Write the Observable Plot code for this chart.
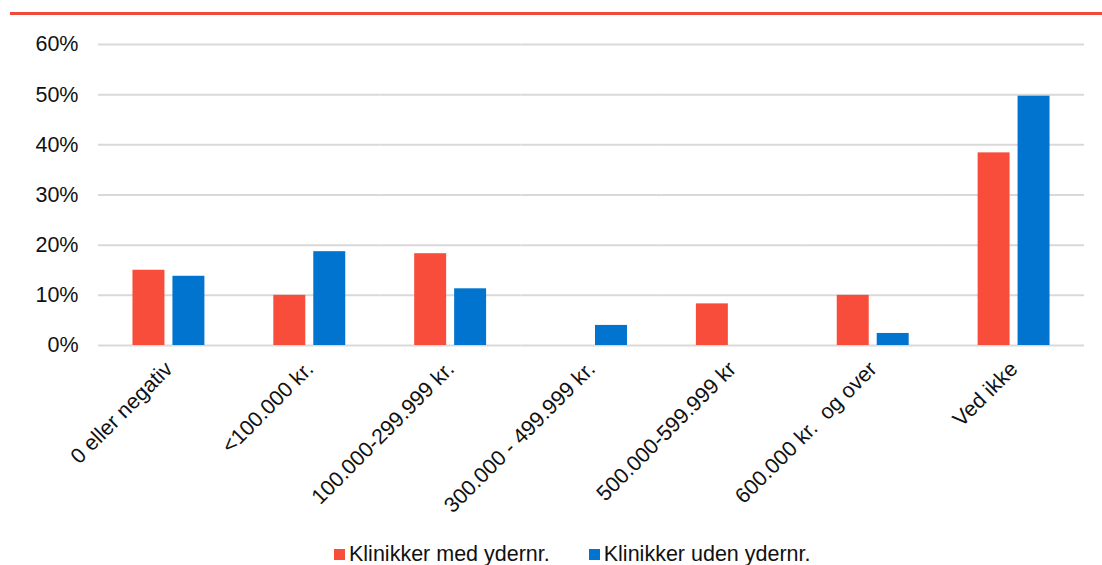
<!DOCTYPE html>
<html>
<head>
<meta charset="utf-8">
<script src="https://cdn.jsdelivr.net/npm/d3@7"></script>
<script src="https://cdn.jsdelivr.net/npm/@observablehq/plot@0.6"></script>
<style>
  html, body { margin: 0; padding: 0; background: #fff; }
  #wrap { position: relative; width: 1102px; height: 565px; overflow: hidden; font-family: "Liberation Sans", Arial, sans-serif; }
  #topline { position: absolute; left: 10px; right: 0; top: 12px; height: 3px; background: #F04A3C; }
  #chart { position: absolute; left: 0; top: 0; }
  #chart svg text { white-space: pre; }
  #legend { position: absolute; left: 334px; top: 542px; display: flex; gap: 39px; font-size: 21.5px; color: #111; line-height: 24px; white-space: nowrap; }
  #legend .item { display: flex; align-items: center; }
  #legend .sw { width: 11px; height: 11px; margin-right: 4px; }
</style>
</head>
<body>
<div id="wrap">
  <div id="topline"></div>
  <div id="chart"></div>
  <div id="legend"></div>
</div>
<script>
const categories = ["0 eller negativ", "<100.000 kr.", "100.000-299.999 kr.", "300.000 - 499.999 kr.", "500.000-599.999 kr", "600.000 kr.  og over", "Ved ikke"];
const seriesNames = ["Klinikker med ydernr.", "Klinikker uden ydernr."];
const medValues = [15.0, 10.0, 18.3, 0, 8.3, 10.0, 38.4];
const udenValues = [13.8, 18.7, 11.3, 4.0, 0, 2.4, 49.7];
const colors = ["#F94D3C", "#0074CE"];
const yTicks = [0, 10, 20, 30, 40, 50, 60];

const data = [];
categories.forEach((c, i) => {
  data.push({category: c, series: seriesNames[0], value: medValues[i]});
  data.push({category: c, series: seriesNames[1], value: udenValues[i]});
});

const chart = Plot.plot({
  width: 1102,
  height: 545,
  marginTop: 44,
  marginBottom: 200,
  marginLeft: 98,
  marginRight: 18,
  style: {fontSize: "21.5px", fontFamily: "'Liberation Sans', Arial, sans-serif", color: "#111", background: "transparent"},
  fx: {domain: categories, paddingInner: 0, paddingOuter: 0, round: false, label: null},
  x: {domain: seriesNames, paddingInner: 0.2, paddingOuter: 0.8625, round: false, axis: null},
  y: {domain: [0, 60], label: null},
  color: {domain: seriesNames, range: colors},
  marks: [
    Plot.ruleY(yTicks, {stroke: "#d9d9d9", strokeWidth: 2}),
    Plot.barY(data, {fx: "category", x: "series", y: "value", fill: "series"}),
    Plot.axisY(yTicks, {tickSize: 0, tickPadding: 20, tickFormat: d => d + "%", label: null, fill: "#111"}),
    Plot.axisFx({anchor: "bottom", tickRotate: -45, tickSize: 0, tickPadding: 20, label: null, fill: "#111"})
  ]
});
document.getElementById("chart").appendChild(chart);

const legend = document.getElementById("legend");
seriesNames.forEach((s, i) => {
  const item = document.createElement("div");
  item.className = "item";
  const sw = document.createElement("span");
  sw.className = "sw";
  sw.style.background = colors[i];
  const t = document.createElement("span");
  t.textContent = s;
  item.appendChild(sw);
  item.appendChild(t);
  legend.appendChild(item);
});
</script>
</body>
</html>
